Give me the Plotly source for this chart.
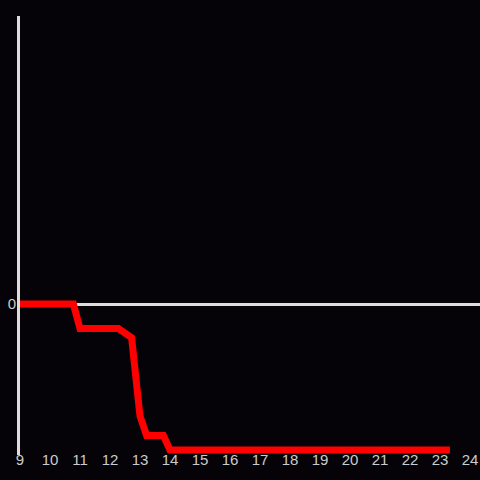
import plotly.graph_objects as go

x_vals = [9, 10.78, 11.0, 12.28, 12.72, 13.0, 13.22, 13.78, 14.0, 23.33]
y_vals = [0, 0, -16.8, -16.8, -23, -76.7, -90, -90, -100, -100]
x_ticks = list(range(9, 25))

fig = go.Figure(go.Scatter(x=x_vals, y=y_vals, mode="lines",
                           line=dict(color="#ff0000", width=7)))

fig.update_layout(
    width=480, height=480,
    margin=dict(l=20, r=0, t=16, b=25),
    paper_bgcolor="#050307", plot_bgcolor="#050307",
    showlegend=False,
    font=dict(family="Liberation Sans, Arial, sans-serif", size=15, color="#cccccc"),
)
fig.update_xaxes(range=[9, 24.333], tickvals=x_ticks, ticktext=[str(t) for t in x_ticks],
                 showgrid=False, zeroline=False, showline=False, ticks="",
                 ticklabelstandoff=-6)
fig.update_yaxes(range=[-103.4, 197.3], tickvals=[0], ticktext=["0"],
                 showgrid=False, zeroline=True, zerolinecolor="#dddddd", zerolinewidth=3,
                 showline=True, linecolor="#dddddd", linewidth=3, ticks="",
                 ticklabelstandoff=-2)

fig.write_html("out.html", config={"displayModeBar": False},
               post_script="document.body.style.margin='0';document.body.style.background='#050307';")
